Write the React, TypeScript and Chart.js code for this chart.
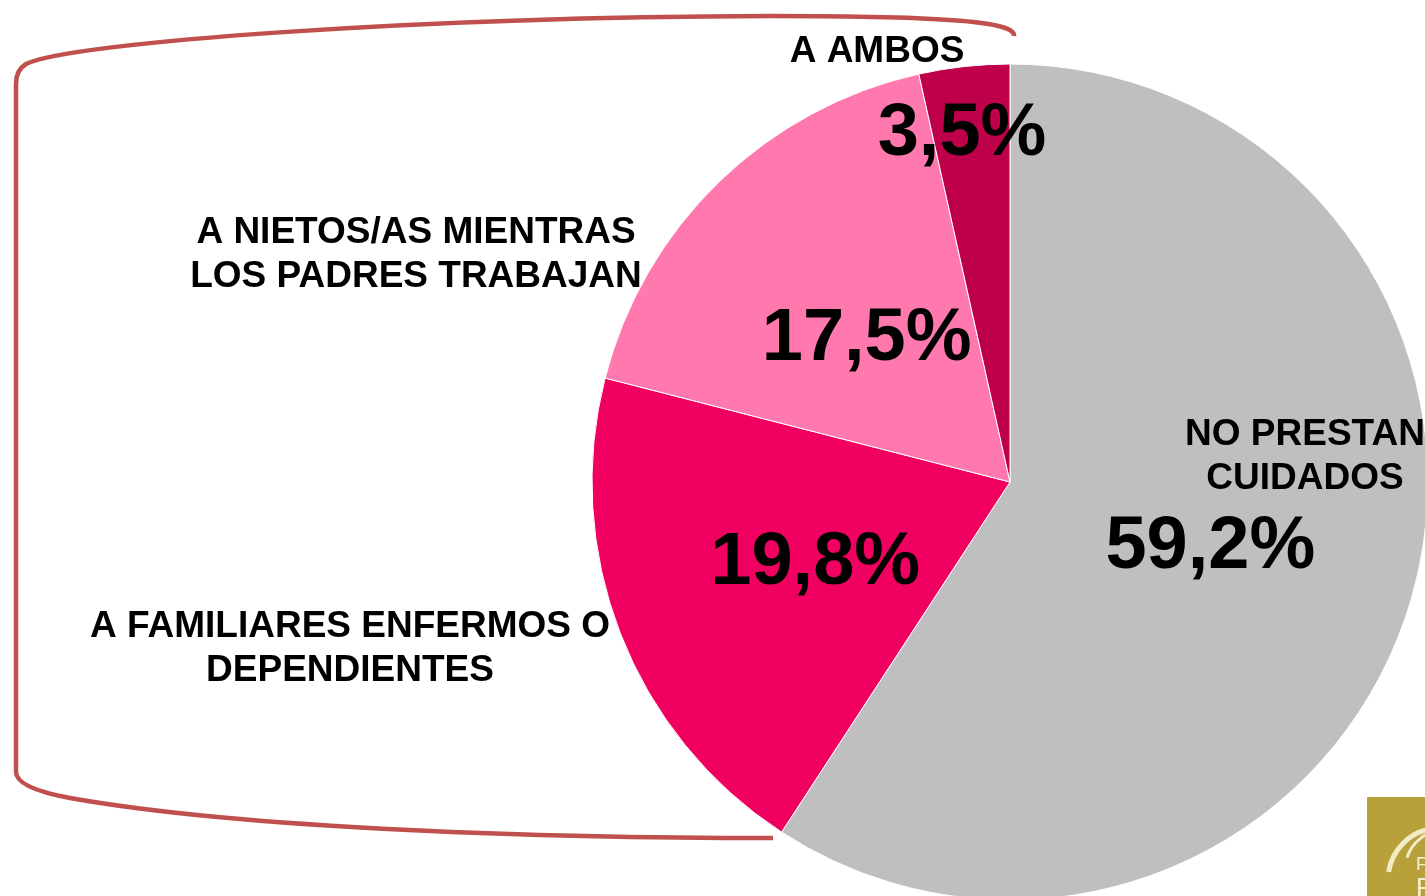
import React, { useEffect, useRef } from "react";
import { Chart, registerables } from "chart.js";

Chart.register(...registerables);

const categories = [
  "NO PRESTAN CUIDADOS",
  "A FAMILIARES ENFERMOS O DEPENDIENTES",
  "A NIETOS/AS MIENTRAS LOS PADRES TRABAJAN",
  "A AMBOS",
];
const values = [59.2, 19.8, 17.5, 3.5];
const valueLabels = ["59,2%", "19,8%", "17,5%", "3,5%"];
const categoryLines = [
  ["NO PRESTAN", "CUIDADOS"],
  ["A FAMILIARES ENFERMOS O", "DEPENDIENTES"],
  ["A NIETOS/AS MIENTRAS", "LOS PADRES TRABAJAN"],
  ["A AMBOS"],
];
const colors = ["#BFBFBF", "#F00060", "#FF79AE", "#BE004A"];

const FONT = '"Liberation Sans", Arial, sans-serif';

// label placement (styling, not data)
const valueLabelRadius = [209, 209, 206, 355];
const valueLabelDx = [0, 0, 0, -9];
const categoryAnchors = [
  { x: 1305, y: 445 },
  { x: 350, y: 637 },
  { x: 416, y: 243 },
  { x: 877, y: 62 },
];

const decorPlugin = {
  id: "decor",
  beforeDatasetsDraw(chart: any) {
    const ctx = chart.ctx;
    ctx.save();
    // bracket
    ctx.strokeStyle = "#C0504D";
    ctx.lineWidth = 4.5;
    ctx.lineCap = "butt";
    ctx.lineJoin = "round";
    ctx.beginPath();
    ctx.moveTo(1014, 36);
    ctx.bezierCurveTo(1016, 22, 950, 16, 770, 16);
    ctx.bezierCurveTo(420, 17, 70, 42, 26, 64);
    ctx.quadraticCurveTo(16, 70, 16, 84);
    ctx.lineTo(16, 772);
    ctx.quadraticCurveTo(16, 788, 70, 798);
    ctx.bezierCurveTo(250, 830, 560, 838, 773, 838);
    ctx.stroke();

    // logo corner
    ctx.fillStyle = "#B8A13A";
    ctx.fillRect(1367, 797, 60, 100);
    ctx.strokeStyle = "rgba(250,245,215,0.9)";
    ctx.lineWidth = 5;
    ctx.beginPath();
    ctx.arc(1440, 880, 52, Math.PI * 1.05, Math.PI * 1.45);
    ctx.stroke();
    ctx.lineWidth = 3;
    ctx.beginPath();
    ctx.arc(1445, 870, 40, Math.PI * 1.1, Math.PI * 1.5);
    ctx.stroke();
    ctx.fillStyle = "rgba(250,245,215,0.95)";
    ctx.font = `18px ${FONT}`;
    ctx.fillText("F", 1416, 870);
    ctx.font = `26px ${FONT}`;
    ctx.fillText("R", 1416, 896);
    ctx.restore();
  },
  afterDatasetsDraw(chart: any) {
    const ctx = chart.ctx;
    const meta = chart.getDatasetMeta(0);
    ctx.save();
    ctx.fillStyle = "#000";
    ctx.textAlign = "center";
    ctx.textBaseline = "alphabetic";
    // value labels
    ctx.font = `bold 74px ${FONT}`;
    meta.data.forEach((arc: any, i: number) => {
      const { x, y, startAngle, endAngle } = arc.getProps(
        ["x", "y", "startAngle", "endAngle"],
        true
      );
      const mid = (startAngle + endAngle) / 2;
      const r = valueLabelRadius[i];
      const cx = x + Math.cos(mid) * r + valueLabelDx[i];
      const cy = y + Math.sin(mid) * r;
      ctx.fillText(valueLabels[i], cx, cy + 26);
    });
    // category labels
    ctx.font = `bold 37px ${FONT}`;
    categoryLines.forEach((lines, i) => {
      const a = categoryAnchors[i];
      lines.forEach((ln, j) => {
        ctx.fillText(ln, a.x, a.y + j * 44);
      });
    });
    ctx.restore();
  },
};

export default function App() {
  const ref = useRef<HTMLCanvasElement>(null);
  useEffect(() => {
    if (!ref.current) return;
    const chart = new Chart(ref.current, {
      type: "pie",
      data: {
        labels: categories,
        datasets: [
          {
            data: values,
            backgroundColor: colors,
            borderColor: "#FFFFFF",
            borderWidth: 1,
            clip: false as any,
          },
        ],
      },
      options: {
        animation: false,
        responsive: false,
        radius: 418,
        layout: { padding: { left: 595, right: 0, top: 68, bottom: 0 } },
        plugins: {
          legend: { display: false },
          tooltip: { enabled: false },
        },
      } as any,
      plugins: [decorPlugin],
    });
    return () => chart.destroy();
  }, []);
  return (
    <div
      style={{
        position: "fixed",
        left: 0,
        top: 0,
        width: 1425,
        height: 896,
        overflow: "hidden",
        background: "#fff",
      }}
    >
      <canvas ref={ref} width={1425} height={896} style={{ display: "block" }} />
    </div>
  );
}
